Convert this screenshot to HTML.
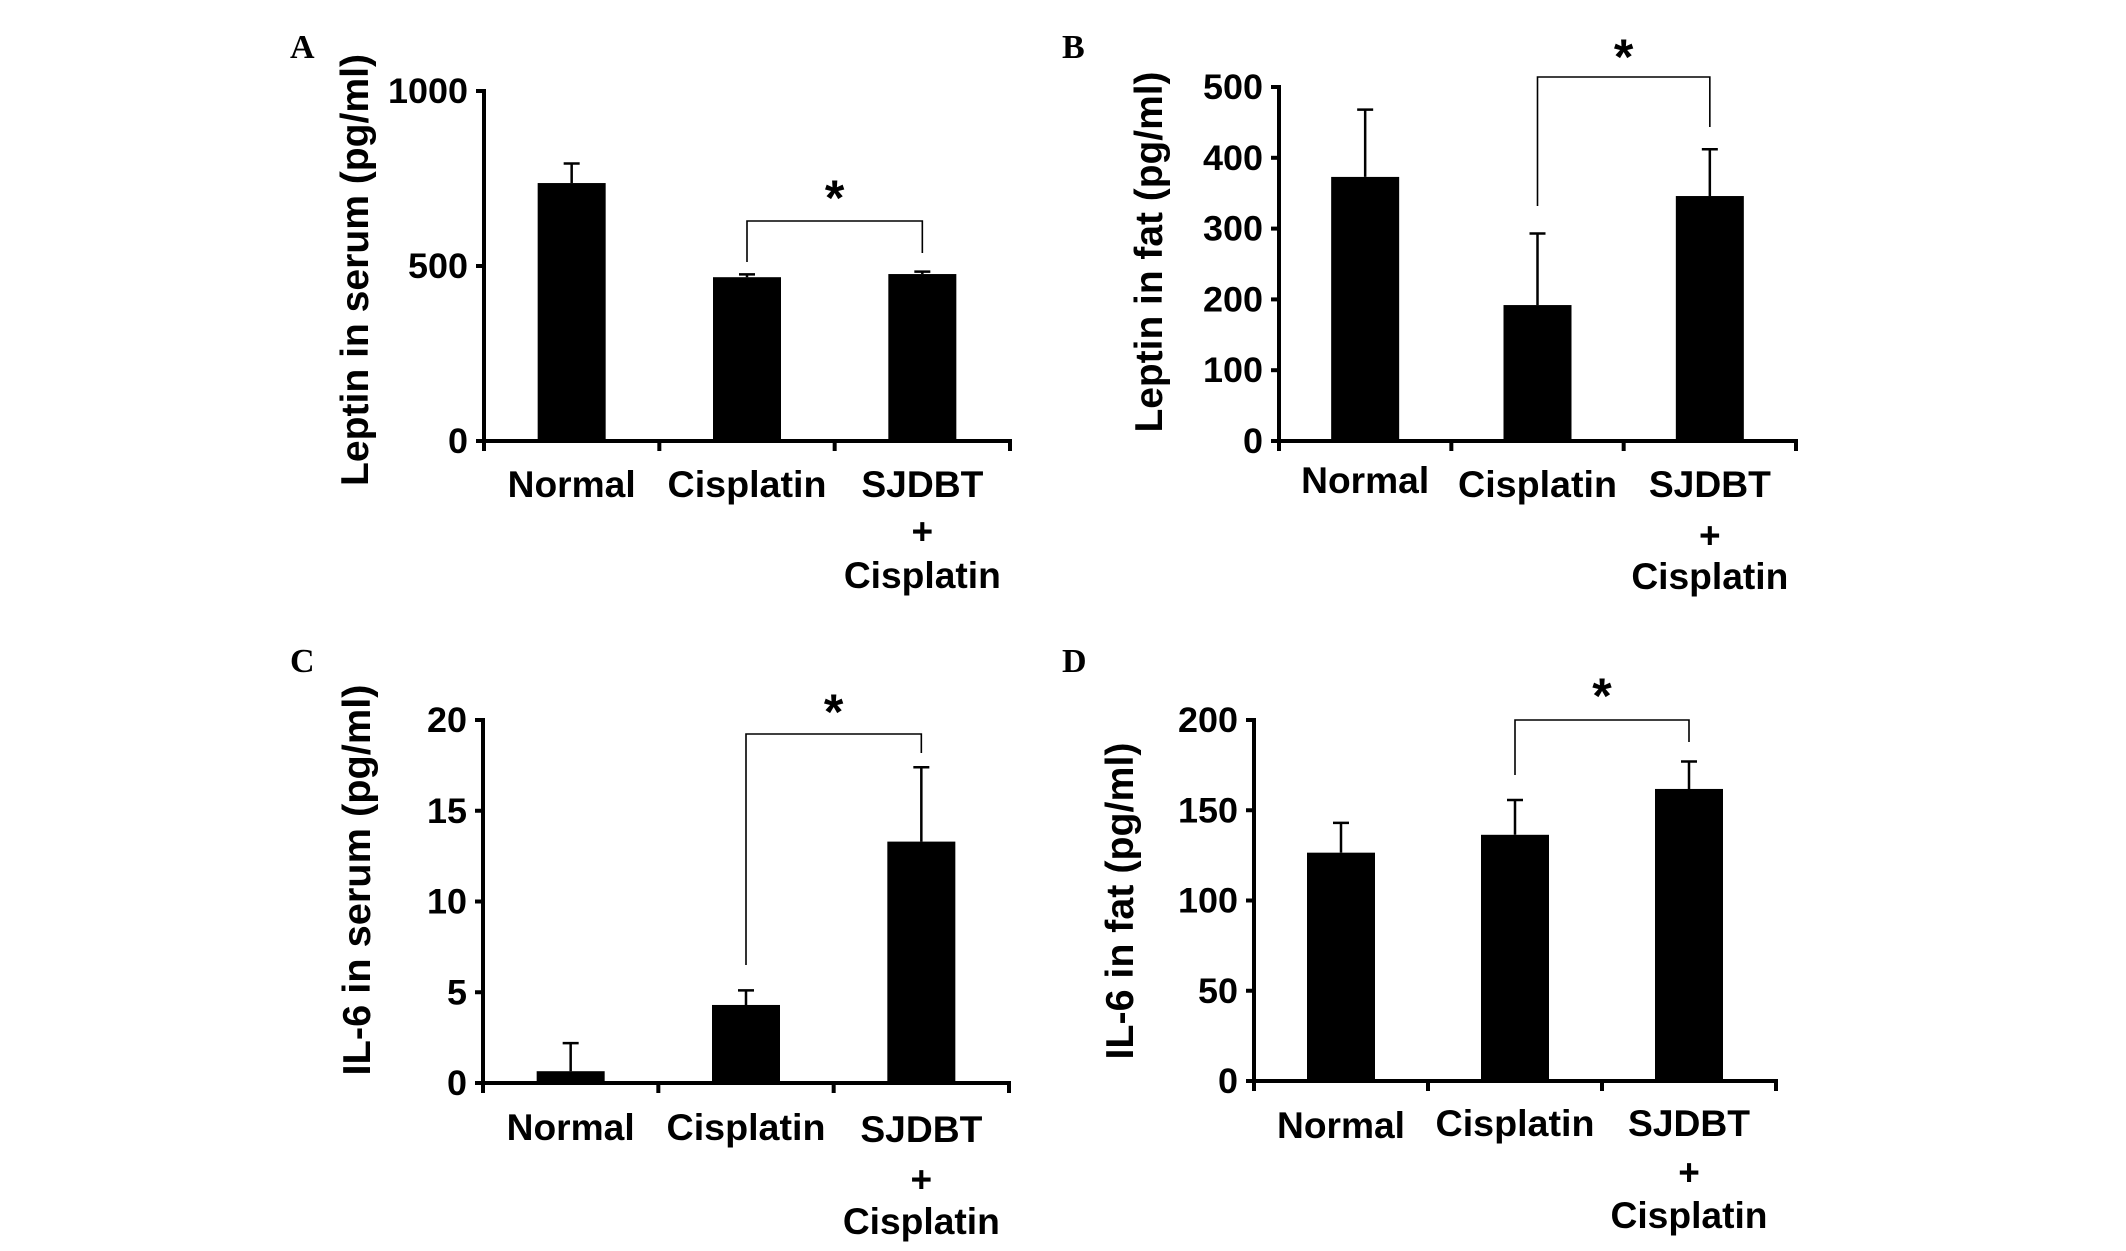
<!DOCTYPE html>
<html><head><meta charset="utf-8">
<style>
html,body{margin:0;padding:0;background:#fff;}
svg{display:block;}
text{font-family:"Liberation Sans",Arial,sans-serif;font-weight:bold;fill:#000;}
.pl{font-family:"Liberation Serif","Times New Roman",serif;font-size:34px;}
</style></head>
<body>
<svg id="fig" width="2126" height="1251" viewBox="0 0 2126 1251" xmlns="http://www.w3.org/2000/svg"></svg>
<script>
const categories = ["Normal","Cisplatin","SJDBT"];
const leptinSerum = [737, 468, 477];
const leptinSerumErr = [56, 8, 7];
const leptinFat = [373, 192, 346];
const leptinFatErr = [95, 101, 66];
const il6Serum = [0.65, 4.3, 13.3];
const il6SerumErr = [1.55, 0.8, 4.1];
const il6Fat = [126.5, 136.4, 161.8];
const il6FatErr = [16.5, 19.3, 15.2];
const ticksA = [0, 500, 1000];
const ticksB = [0, 100, 200, 300, 400, 500];
const ticksC = [0, 5, 10, 15, 20];
const ticksD = [0, 50, 100, 150, 200];

const NS = "http://www.w3.org/2000/svg";
const svg = document.getElementById("fig");
function mk(tag, attrs, parent){
  const e = document.createElementNS(NS, tag);
  for (const k in attrs) e.setAttribute(k, attrs[k]);
  (parent||svg).appendChild(e);
  return e;
}

const panels = [
  {id:"a", label:"A", lx:290, ly:58, ax:484, y0:441, yTop:91, xEnd:1010, max:1000, vals:leptinSerum, errs:leptinSerumErr, ticks:ticksA,
   title:"Leptin in serum (pg/ml)", tx:368, tyC:270, tLen:432, br:[262,221,253], star:191, labY:[497,497,497], plusY:544, lab2Y:588},
  {id:"b", label:"B", lx:1062, ly:58, ax:1279, y0:441, yTop:87, xEnd:1796, max:500, vals:leptinFat, errs:leptinFatErr, ticks:ticksB,
   title:"Leptin in fat (pg/ml)", tx:1162, tyC:252, tLen:361, br:[206,77,127], star:50, labY:[493,497,497], plusY:548, lab2Y:589},
  {id:"c", label:"C", lx:290, ly:672, ax:483, y0:1083, yTop:720, xEnd:1009, max:20, vals:il6Serum, errs:il6SerumErr, ticks:ticksC,
   title:"IL-6 in serum (pg/ml)", tx:370, tyC:880, tLen:391, br:[965,734,753], star:705, labY:[1140,1140,1142], plusY:1192, lab2Y:1234},
  {id:"d", label:"D", lx:1062, ly:672, ax:1254, y0:1081, yTop:720, xEnd:1776, max:200, vals:il6Fat, errs:il6FatErr, ticks:ticksD,
   title:"IL-6 in fat (pg/ml)", tx:1133, tyC:901, tLen:317, br:[775,720,742], star:689, labY:[1138,1136,1136], plusY:1185, lab2Y:1228}
];

panels.forEach(p => {
  const g = mk("g", {});
  
  
  const yS = v => p.y0 - (v / p.max) * (p.y0 - p.yTop);
  const catW = (p.xEnd - p.ax) / categories.length;
  const xC = i => p.ax + catW * (i + 0.5);
  const barW = 68;

  const pl = mk("text", {x:p.lx, y:p.ly, class:"pl"}, g);
  pl.textContent = p.label;
  
  

  p.vals.forEach((v, i) => {
    const top = yS(v);
    const r = mk("rect", {x:xC(i) - barW/2, y:top, width:barW, height:p.y0 - top, fill:"#000"}, g);
    
    
    const et = yS(v + p.errs[i]);
    const eb = mk("path", {d:`M${xC(i)} ${top} V${et} M${xC(i)-8} ${et} H${xC(i)+8}`, stroke:"#000", "stroke-width":2.5, fill:"none"}, g);
    
    
  });

  const ya = mk("line", {x1:p.ax, y1:p.yTop - 2, x2:p.ax, y2:p.y0 + 10, stroke:"#000", "stroke-width":4}, g);
  
  
  const xa = mk("line", {x1:p.ax - 2, y1:p.y0, x2:p.xEnd + 2, y2:p.y0, stroke:"#000", "stroke-width":4}, g);
  
  
  for (let i = 1; i <= categories.length; i++) {
    const xx = p.ax + catW * i;
    const tk = mk("line", {x1:xx, y1:p.y0, x2:xx, y2:p.y0 + 10, stroke:"#000", "stroke-width":4}, g);
    
    
  }
  p.ticks.forEach(t => {
    const y = yS(t);
    const tk = mk("line", {x1:p.ax - 8, y1:y, x2:p.ax, y2:y, stroke:"#000", "stroke-width":4}, g);
    
    
    const s = String(t);
    const tl = mk("text", {x:p.ax - 16, y:y + 12, "text-anchor":"end", "font-size":35, textLength:s.length * 20, lengthAdjust:"spacingAndGlyphs"}, g);
    tl.textContent = s;
    
    
  });

  const yt = mk("text", {x:0, y:0, "text-anchor":"middle", "font-size":39, textLength:p.tLen, lengthAdjust:"spacingAndGlyphs",
    transform:`translate(${p.tx},${p.tyC}) rotate(-90)`}, g);
  yt.textContent = p.title;
  
  

  const lens = [128, 159, 122];
  categories.forEach((c, i) => {
    const t = mk("text", {x:xC(i), y:p.labY[i], "text-anchor":"middle", "font-size":37, textLength:lens[i], lengthAdjust:"spacingAndGlyphs"}, g);
    t.textContent = c;
    
    
  });
  const plus = mk("text", {x:xC(2), y:p.plusY, "text-anchor":"middle", "font-size":37}, g);
  plus.textContent = "+";
  
  
  const l2 = mk("text", {x:xC(2), y:p.lab2Y, "text-anchor":"middle", "font-size":37, textLength:157, lengthAdjust:"spacingAndGlyphs"}, g);
  l2.textContent = "Cisplatin";
  
  

  const x1 = xC(1), x2 = xC(2);
  const br = mk("path", {d:`M${x1} ${p.br[0]} V${p.br[1]} H${x2} V${p.br[2]}`, stroke:"#000", "stroke-width":1.6, fill:"none"}, g);
  
  
  const st = mk("text", {x:(x1 + x2) / 2, y:p.star + 24, "text-anchor":"middle", "font-size":50}, g);
  st.textContent = "*";
  
  
});
</script>
</body></html>
